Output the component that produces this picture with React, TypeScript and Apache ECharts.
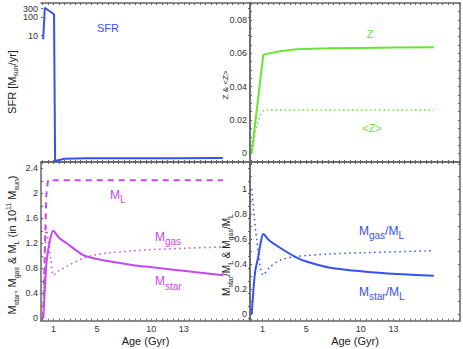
import React, { useEffect, useRef } from "react";
import * as echarts from "echarts";

// ---------- data ----------
const sfrAge = [0.05, 0.2, 0.25, 1.05, 1.15, 2, 4, 8, 12, 16.6];
const sfrValues = [6.4, 340, 350, 148, 1.43e-6, 1.9e-6, 2.0e-6, 2.0e-6, 2.05e-6, 2.1e-6];

const zAge = [0, 1.07, 2.6, 4.1, 7.2, 10, 13, 16.7];
const zValues = [0, 0.0592, 0.0612, 0.0624, 0.063, 0.0632, 0.0634, 0.0636];
const zMeanAge = [0.05, 0.4, 0.8, 1.1, 16.7];
const zMeanValues = [0.002, 0.015, 0.023, 0.026, 0.026];

const mLAge = [0.05, 0.2, 0.35, 0.5, 16.6];
const mLValues = [0, 1.1, 2.0, 2.21, 2.21];
const mStarAge = [0.05, 0.22, 0.38, 0.68, 0.98, 1.5, 2.22, 3.75, 5, 8.35, 9.9, 12.96, 16.65];
const mStarValues = [0, 0.51, 0.93, 1.25, 1.4, 1.29, 1.2, 1.01, 0.95, 0.85, 0.82, 0.76, 0.69];
const mGasAge = [0.05, 0.2, 0.35, 0.5, 0.75, 1.0, 1.5, 2.2, 3.75, 5, 8.35, 12.96, 16.65];
const mGasValues = [0, 0.95, 1.45, 1.25, 0.95, 0.69, 0.76, 0.83, 0.96, 1.02, 1.08, 1.12, 1.14];

const starRatioAge = [0.01, 0.31, 0.61, 0.83, 1.07, 1.6, 2.6, 4.13, 5, 7.2, 10.25, 13.3, 16.7];
const starRatioValues = [0, 0.33, 0.46, 0.57, 0.64, 0.59, 0.53, 0.45, 0.42, 0.37, 0.34, 0.32, 0.306];
const gasRatioAge = [0.01, 0.46, 1.07, 1.6, 2.6, 4.13, 7.2, 10.25, 16.7];
const gasRatioValues = [1.0, 0.6, 0.31, 0.37, 0.43, 0.46, 0.48, 0.49, 0.506];

// tick labels
const xLabelValues = [1, 5, 10, 13];
const sfrLabelValues = [10, 100];
const sfrTopLabelValues = [300];
const zLabelValues = [0, 0.02, 0.04, 0.06, 0.08];
const massLabelValues = [0, 0.4, 0.8, 1.2, 1.6, 2, 2.4];
const ratioLabelValues = [0, 0.2, 0.4, 0.6, 0.8, 1];

// ---------- styling ----------
const FONT = "Liberation Sans, Arial, Helvetica, sans-serif";
const BLUE = "#3552f0";
const PURPLE = "#c548f0";
const GREEN = "#66e634";
const FRAME = "#666666";
const TEXT = "#222222";

const X_MIN = -0.15;
const X_MAX = 19.1;
const SFR_MIN = 1.26e-6;
const SFR_MAX = 614;

function steps(a: number, b: number, s: number) {
  const out: number[] = [];
  const n = Math.round((b - a) / s);
  for (let i = 0; i <= n; i++) out.push(+(a + i * s).toFixed(4));
  return out;
}

const xTicks = steps(0, 19, 0.5);

const pair = (xs: number[], ys: number[]) => xs.map((x, i) => [x, ys[i]]);

const labelStyle = {
  fontSize: 9,
  color: "#333",
  margin: 3,
  fontFamily: FONT,
  formatter: (v: number) => String(v),
};

function xAxes(gridIndex: number, showLabels: boolean) {
  const line = { show: true, onZero: false, lineStyle: { color: FRAME, width: 1.5 } };
  return [
    {
      type: "value",
      gridIndex,
      position: "bottom",
      min: X_MIN,
      max: X_MAX,
      axisLine: line,
      axisTick: { show: true, inside: true, length: 2, customValues: xTicks, lineStyle: { color: FRAME } },
      axisLabel: {
        show: showLabels,
        customValues: xLabelValues,
        fontSize: 9,
        color: "#333",
        margin: 4,
        fontFamily: FONT,
      },
      splitLine: { show: false },
      name: showLabels ? "Age (Gyr)" : "",
      nameLocation: "middle",
      nameGap: 15,
      nameTextStyle: { fontSize: 11, color: TEXT, fontFamily: FONT, verticalAlign: "top" },
    },
    {
      type: "value",
      gridIndex,
      position: "top",
      min: X_MIN,
      max: X_MAX,
      axisLine: line,
      axisTick: { show: true, inside: true, length: 2, customValues: xTicks, lineStyle: { color: FRAME } },
      axisLabel: { show: false },
      splitLine: { show: false },
    },
  ];
}

function yAxes(
  gridIndex: number,
  type: string,
  min: number,
  max: number,
  labels: number[],
  ticks: number[],
  showLeftLine = true
) {
  return [
    {
      type,
      gridIndex,
      position: "left",
      min,
      max,
      axisLine: { show: showLeftLine, onZero: false, lineStyle: { color: FRAME, width: 1.5 } },
      axisTick: { show: true, inside: true, length: 2, customValues: ticks, lineStyle: { color: FRAME } },
      axisLabel: { customValues: labels, ...labelStyle },
      splitLine: { show: false },
    },
    {
      type,
      gridIndex,
      position: "right",
      min,
      max,
      axisLine: { show: true, onZero: false, lineStyle: { color: FRAME, width: 1.5 } },
      axisTick: { show: true, inside: true, length: 2, customValues: ticks, lineStyle: { color: FRAME } },
      axisLabel: { show: false },
      splitLine: { show: false },
    },
  ];
}

type Tok = [string, "n" | "s" | "u"];

function richText(
  cx: number,
  cy: number,
  tokens: Tok[],
  N: number,
  S: number,
  color: string,
  opts: { rotate?: boolean; align?: string; subOff?: number; supOff?: number } = {}
) {
  const subOff = opts.subOff ?? 4;
  const supOff = opts.supOff ?? 4;
  const hasSup = tokens.some((t) => t[1] === "u");
  const P = hasSup ? 5 : 0;
  const Ps = Math.max(0, P + N / 2 + subOff - S / 2);
  const Pu = Math.max(0, P + N / 2 - supOff - S / 2);
  const rich = {
    n: { fontSize: N, fontFamily: FONT, fill: color, padding: [P, 0, 0, 0], verticalAlign: "top" },
    s: { fontSize: S, fontFamily: FONT, fill: color, padding: [Ps, 0, 0, 0], verticalAlign: "top" },
    u: { fontSize: S, fontFamily: FONT, fill: color, padding: [Pu, 0, 0, 0], verticalAlign: "top" },
  };
  const text = tokens.map(([t, k]) => `{${k}|${t}}`).join("");
  const off = P + N / 2;
  if (opts.rotate) {
    return {
      type: "text",
      x: cx - off,
      y: cy,
      rotation: Math.PI / 2,
      silent: true,
      style: { text, rich, fill: color, align: "center", verticalAlign: "top", fontSize: N, fontFamily: FONT },
    };
  }
  return {
    type: "text",
    x: cx,
    y: cy - off,
    silent: true,
    style: {
      text,
      rich,
      fill: color,
      align: opts.align ?? "left",
      verticalAlign: "top",
      fontSize: N,
      fontFamily: FONT,
    },
  };
}

function plainText(cx: number, cy: number, text: string, size: number, color: string, rotate = false) {
  return {
    type: "text",
    x: cx,
    y: cy,
    rotation: rotate ? Math.PI / 2 : 0,
    silent: true,
    style: { text, fill: color, fontSize: size, fontFamily: FONT, align: "center", verticalAlign: "middle" },
  };
}

export default function App() {
  const ref = useRef<HTMLDivElement>(null);

  useEffect(() => {
    if (!ref.current) return;
    const chart = echarts.init(ref.current, undefined, { renderer: "svg" });

    const option: any = {
      animation: false,
      backgroundColor: "#ffffff",
      grid: [
        { left: 41, top: 3, width: 209, height: 159 },
        { left: 250, top: 3, width: 210, height: 159 },
        { left: 41, top: 162, width: 209, height: 158.7 },
        { left: 250, top: 162, width: 210, height: 158.7 },
      ],
      xAxis: [...xAxes(0, false), ...xAxes(1, false), ...xAxes(2, true), ...xAxes(3, true)],
      yAxis: [
        ...yAxes(0, "log", SFR_MIN, SFR_MAX, sfrLabelValues, [10, 100, 300], false),
        ...yAxes(1, "value", -0.0051, 0.0901, zLabelValues, steps(0, 0.09, 0.005)),
        ...yAxes(2, "value", -0.038, 2.5, massLabelValues, steps(0, 2.4, 0.2)),
        ...yAxes(3, "value", -0.054, 1.216, ratioLabelValues, steps(0, 1.2, 0.1)),
        {
          type: "log",
          gridIndex: 0,
          position: "left",
          offset: 0,
          min: SFR_MIN,
          max: SFR_MAX,
          axisLine: { show: false },
          axisTick: { show: false },
          axisLabel: { customValues: sfrTopLabelValues, ...labelStyle },
          splitLine: { show: false },
        },
      ],
      series: [
        {
          type: "line",
          xAxisIndex: 0,
          yAxisIndex: 0,
          data: pair(sfrAge, sfrValues),
          symbol: "none",
          lineStyle: { color: BLUE, width: 2 },
        },
        {
          type: "line",
          xAxisIndex: 2,
          yAxisIndex: 2,
          data: pair(zAge, zValues),
          symbol: "none",
          lineStyle: { color: GREEN, width: 2 },
        },
        {
          type: "line",
          xAxisIndex: 2,
          yAxisIndex: 2,
          data: pair(zMeanAge, zMeanValues),
          symbol: "none",
          lineStyle: { color: GREEN, width: 1.5, type: [1.5, 3] },
        },
        {
          type: "line",
          xAxisIndex: 4,
          yAxisIndex: 4,
          data: pair(mLAge, mLValues),
          symbol: "none",
          lineStyle: { color: PURPLE, width: 2, type: [6, 5] },
        },
        {
          type: "line",
          xAxisIndex: 4,
          yAxisIndex: 4,
          data: pair(mStarAge, mStarValues),
          symbol: "none",
          smooth: 0.3,
          lineStyle: { color: PURPLE, width: 2 },
        },
        {
          type: "line",
          xAxisIndex: 4,
          yAxisIndex: 4,
          data: pair(mGasAge, mGasValues),
          symbol: "none",
          smooth: 0.3,
          lineStyle: { color: PURPLE, width: 1.5, type: [1.5, 3.5] },
        },
        {
          type: "line",
          xAxisIndex: 6,
          yAxisIndex: 6,
          data: pair(starRatioAge, starRatioValues),
          symbol: "none",
          smooth: 0.3,
          lineStyle: { color: BLUE, width: 2 },
        },
        {
          type: "line",
          xAxisIndex: 6,
          yAxisIndex: 6,
          data: pair(gasRatioAge, gasRatioValues),
          symbol: "none",
          smooth: 0.3,
          lineStyle: { color: BLUE, width: 1.5, type: [1.5, 3.5] },
        },
      ],
      graphic: [
        plainText(108, 28, "SFR", 11, BLUE),
        plainText(370, 34, "Z", 11, GREEN),
        plainText(372, 128, "<Z>", 11, GREEN),
        richText(110, 195, [["M", "n"], ["L", "s"]], 12, 10, PURPLE, { subOff: 4 }),
        richText(155, 237, [["M", "n"], ["gas", "s"]], 12, 10, PURPLE, { subOff: 4.5 }),
        richText(155, 281, [["M", "n"], ["star", "s"]], 12, 10, PURPLE, { subOff: 5 }),
        richText(359, 231, [["M", "n"], ["gas", "s"], ["/M", "n"], ["L", "s"]], 12, 10, BLUE, { subOff: 4.5 }),
        richText(359, 292, [["M", "n"], ["star", "s"], ["/M", "n"], ["L", "s"]], 12, 10, BLUE, { subOff: 4.5 }),
        richText(11.5, 82, [["SFR [M", "n"], ["sun", "s"], ["/yr]", "n"]], 11, 7, TEXT, { rotate: true, subOff: 4 }),
        plainText(225, 85, "Z & <Z>", 8, TEXT, true),
        richText(
          12,
          245,
          [
            ["M", "n"],
            ["star", "s"],
            [", M", "n"],
            ["gas", "s"],
            [" & M", "n"],
            ["L", "s"],
            [" (in 10", "n"],
            ["11", "u"],
            [" M", "n"],
            ["sun", "s"],
            [")", "n"],
          ],
          11,
          7,
          TEXT,
          { rotate: true, subOff: 4, supOff: 4 }
        ),
        richText(
          226,
          255,
          [
            ["M", "n"],
            ["star", "s"],
            ["/M", "n"],
            ["L", "s"],
            [" & M", "n"],
            ["gas", "s"],
            ["/M", "n"],
            ["L", "s"],
          ],
          10,
          7,
          TEXT,
          { rotate: true, subOff: 4 }
        ),
      ],
    };

    chart.setOption(option);
    return () => chart.dispose();
  }, []);

  return (
    <div
      ref={ref}
      style={{ position: "fixed", left: 0, top: 0, width: 463, height: 349, background: "#fff" }}
    />
  );
}
